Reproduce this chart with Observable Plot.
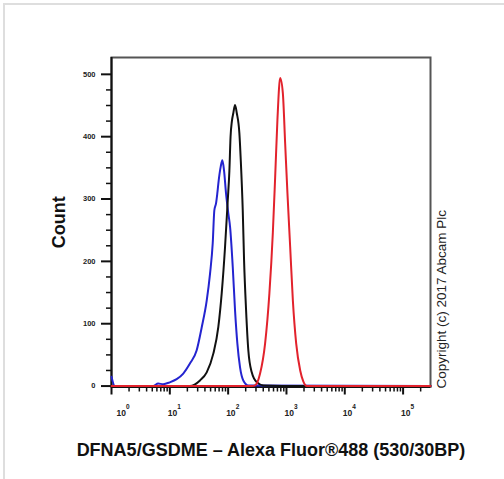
<!DOCTYPE html>
<html><head><meta charset="utf-8">
<script src="https://cdn.jsdelivr.net/npm/d3@7"></script>
<script src="https://cdn.jsdelivr.net/npm/@observablehq/plot@0.6"></script>
<style>
html,body{margin:0;padding:0;background:#fff;overflow:hidden;}
#wrap{position:relative;width:504px;height:479px;overflow:hidden;font-family:"Liberation Sans",Arial,sans-serif;}
#border{position:absolute;left:3px;top:3px;width:700px;height:700px;border-top:2px solid #dedede;border-left:2px solid #dedede;}
#chart{position:absolute;left:0;top:0;}
#title{position:absolute;left:0;width:542px;top:441px;text-align:center;font-weight:bold;font-size:18px;line-height:18px;color:#111;white-space:nowrap;}
</style></head><body>
<div id="wrap"><div id="border"></div><div id="chart"></div><div id="title">DFNA5/GSDME – Alexa Fluor®488 (530/30BP)</div></div>
<script>
// Axis settings / tick labels
const xDomain = [1, 295000];
const yDomain = [-1.5, 527];
const majorTicksX = [1, 10, 100, 1000, 10000, 100000];
const exponents = ["0", "1", "2", "3", "4", "5"];
const yTicks = [0, 100, 200, 300, 400, 500];
const yMinorTicks = [25, 50, 75, 125, 150, 175, 225, 250, 275, 325, 350, 375, 425, 450, 475];
const yLabel = "Count";
const copyright = "Copyright (c) 2017 Abcam Plc";

// Series: isotype / unstained control (blue)
const blueX = [1, 1.14, 5.2, 6.3, 7.7, 10, 13.1, 17, 22.1, 28.8, 35.2, 42.9, 48.9, 54.4, 58, 62, 65.2, 68.9, 74.6, 79.5, 85, 92, 100.7, 108, 120, 131.4, 144, 160, 182, 222, 295000];
const blueY = [15, 0, 0, 4, 3, 6, 11, 20, 36, 57, 94, 137, 180, 229, 282, 293, 309, 330, 352, 362, 346, 309, 277, 255, 191, 121, 68, 30, 9, 1, 0];
// Series: black
const blackX = [1, 22.1, 32.9, 42.9, 55.7, 67.9, 77.6, 88.5, 98.5, 105, 110, 116, 122.8, 131.4, 140.6, 155.7, 164.5, 178, 187.5, 203, 222, 254, 310, 403, 1720, 295000];
const blackY = [0, 0, 9, 22, 52, 95, 149, 223, 298, 345, 400, 425, 438, 451, 438, 406, 363, 282, 202, 122, 57, 22, 6, 1, 0, 0];
// Series: DFNA5/GSDME stained (red)
const redX = [1, 258, 290, 353, 430, 510, 584, 640, 700, 780, 867, 950, 1040, 1158, 1288, 1469, 1720, 1936, 2242, 295000];
const redY = [0, 0, 1, 20, 68, 149, 246, 335, 427, 494, 470, 389, 309, 223, 137, 68, 25, 8, 0, 0];

const minorTicksX = [];
for (const t of majorTicksX) for (let m = 2; m <= 9; m++) { const v = t * m; if (v <= xDomain[1]) minorTicksX.push(v); }

const toRows = (xs, ys) => xs.map((x, i) => ({x, y: ys[i]}));
const blue = toRows(blueX, blueY), black = toRows(blackX, blackY), red = toRows(redX, redY);
const xLabels = majorTicksX.map((v, i) => ({v, e: exponents[i]}));

const lineOpts = {x: "x", y: "y", strokeWidth: 2, curve: "monotone-x"};
const labelFont = {fontSize: 8.5, fontWeight: "bold", fill: "#222"};

const plot = Plot.plot({
  width: 504, height: 430,
  marginLeft: 111, marginRight: 74, marginTop: 57, marginBottom: 43.5,
  style: {fontFamily: "'Liberation Sans', Arial, sans-serif", background: "transparent", overflow: "visible"},
  x: {type: "log", domain: xDomain},
  y: {domain: yDomain},
  marks: [
    Plot.frame({stroke: "#555", strokeWidth: 2}),
    Plot.axisY(yMinorTicks, {tickSize: 5, tickFormat: () => "", label: null, strokeWidth: 1.5, stroke: "#111"}),
    Plot.axisY(yTicks, {tickSize: 10, tickPadding: 6, fontSize: 7.5, fontWeight: "bold", fill: "#222", label: null, strokeWidth: 2, stroke: "#111", tickFormat: d => String(d)}),
    Plot.axisX(minorTicksX, {tickSize: 5, tickFormat: () => "", label: null, strokeWidth: 1.5, stroke: "#111"}),
    Plot.axisX(majorTicksX, {tickSize: 8, tickFormat: () => "", label: null, strokeWidth: 2, stroke: "#111"}),
    Plot.text(xLabels.slice(0, 1), {x: "v", frameAnchor: "bottom", text: () => "10", textAnchor: "start", lineAnchor: "middle", dx: 5, dy: 26, ...labelFont}),
    Plot.text(xLabels.slice(0, 1), {x: "v", frameAnchor: "bottom", text: "e", textAnchor: "start", lineAnchor: "middle", dx: 14.5, dy: 19.5, ...labelFont, fontSize: 6.5}),
    Plot.text(xLabels.slice(1), {x: "v", frameAnchor: "bottom", text: () => "10", textAnchor: "start", lineAnchor: "middle", dx: -2, dy: 26, ...labelFont}),
    Plot.text(xLabels.slice(1), {x: "v", frameAnchor: "bottom", text: "e", textAnchor: "start", lineAnchor: "middle", dx: 7.5, dy: 19.5, ...labelFont, fontSize: 6.5}),
    Plot.ruleX([xDomain[0]], {stroke: "#111", strokeWidth: 2}),
    Plot.ruleY([yDomain[0]], {stroke: "#111", strokeWidth: 2}),
    Plot.line(blue, {...lineOpts, stroke: "#2424d0"}),
    Plot.line(black, {...lineOpts, stroke: "#111"}),
    Plot.line(red, {...lineOpts, stroke: "#e2222c"}),
    Plot.text([yLabel], {frameAnchor: "left", rotate: -90, textAnchor: "middle", lineAnchor: "middle", dx: -52, fontSize: 18, fontWeight: "bold", fill: "#111"}),
    Plot.text([copyright], {frameAnchor: "bottom-right", rotate: -90, textAnchor: "start", lineAnchor: "middle", dx: 11, dy: 1.5, fontSize: 13.5, fill: "#222"})
  ]
});
document.getElementById("chart").appendChild(plot);
</script>
</body></html>
